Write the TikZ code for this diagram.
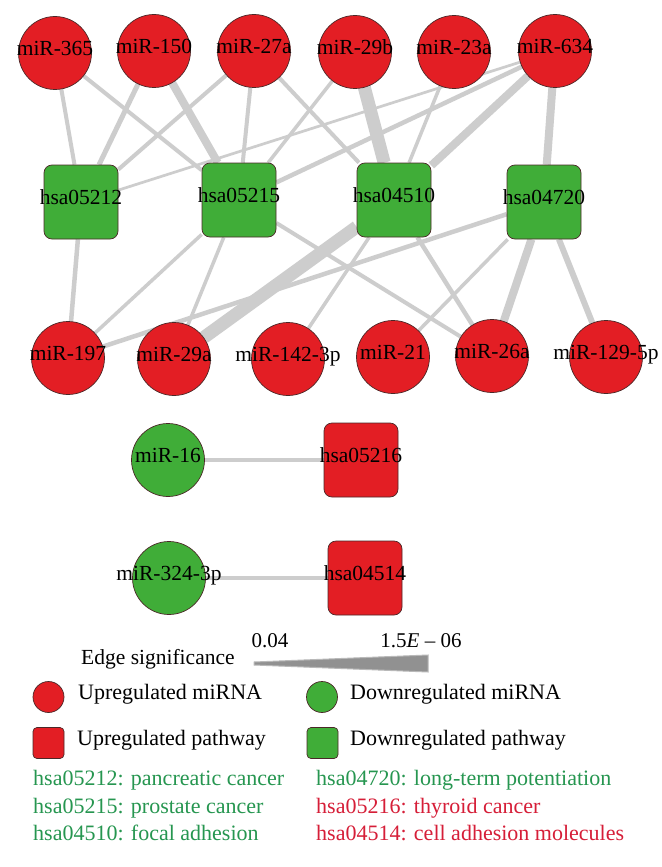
\documentclass[tikz,border=0pt]{standalone}
\usepackage{fontspec}
\setmainfont{Liberation Serif}
\newfontfamily\lserif[Ligatures=TeX]{Liberation Serif}
\usetikzlibrary{backgrounds}
\definecolor{nodered}{RGB}{227,30,36}
\definecolor{nodegreen}{RGB}{64,173,56}
\definecolor{edgegray}{RGB}{205,205,205}
\definecolor{txtgreen}{RGB}{38,150,80}
\definecolor{txtred}{RGB}{214,30,56}
\definecolor{outline}{RGB}{75,40,40}
\definecolor{wedgefill}{RGB}{145,145,145}
\definecolor{wedgeline}{RGB}{185,185,185}
\begin{document}
\begin{tikzpicture}[x=1pt,y=-1pt,
  lbl/.style={font=\lserif\fontsize{21.5}{24}\selectfont, inner sep=0pt, text height=0.68em, text depth=0.2em},
  mir/.style={circle, draw=outline, line width=0.7pt, minimum size=73pt, inner sep=0pt, fill=#1},
  pw/.style={rectangle, rounded corners=8pt, draw=outline, line width=0.7pt, minimum width=74pt, minimum height=74pt, inner sep=0pt, fill=#1},
  link/.style={draw=edgegray, line width=#1},
  lgd/.style={font=\lserif\fontsize{22}{24}\selectfont, inner sep=0pt, anchor=west, text height=0.68em, text depth=0.22em},
  lgdcirc/.style={circle, draw=outline, line width=0.7pt, minimum size=31pt, inner sep=0pt, fill=#1},
  lgdsq/.style={rectangle, rounded corners=4pt, draw=outline, line width=0.7pt, minimum size=31pt, inner sep=0pt, fill=#1}
]
\useasboundingbox (0,0) rectangle (661,867);
\begin{scope}[on background layer]
\fill[white] (0,0) rectangle (661,867);
\end{scope}

% top row miRNAs
\node[mir=nodered, label={[lbl]center:miR-365}] (m365) at (55,53) {};
\node[mir=nodered, label={[lbl]center:miR-150}] (m150) at (154,51) {};
\node[mir=nodered, label={[lbl]center:miR-27a}] (m27a) at (254,51) {};
\node[mir=nodered, label={[lbl]center:miR-29b}] (m29b) at (355,52) {};
\node[mir=nodered, label={[lbl]center:miR-23a}] (m23a) at (454,52) {};
\node[mir=nodered, label={[lbl]center:miR-634}] (m634) at (555,51) {};

% pathways
\node[pw=nodegreen, label={[lbl]center:hsa05212}] (p12) at (81,202) {};
\node[pw=nodegreen, label={[lbl]center:hsa05215}] (p15) at (239,200) {};
\node[pw=nodegreen, label={[lbl]center:hsa04510}] (p10) at (394,200) {};
\node[pw=nodegreen, label={[lbl]center:hsa04720}] (p20) at (544,202) {};

% bottom row miRNAs
\node[mir=nodered, label={[lbl]center:miR-197}] (m197) at (68,358) {};
\node[mir=nodered, label={[lbl]center:miR-29a}] (m29a) at (174,359) {};
\node[mir=nodered, label={[lbl]center:miR-142-3p}] (m142) at (288,359) {};
\node[mir=nodered, label={[lbl]center:miR-21}] (m21) at (393,357) {};
\node[mir=nodered, label={[lbl]center:miR-26a}] (m26a) at (492,356) {};
\node[mir=nodered, label={[lbl]center:miR-129-5p}] (m129) at (606,357) {};

% separate pairs
\node[mir=nodegreen, label={[lbl]center:miR-16}] (m16) at (168,460) {};
\node[pw=nodered, label={[lbl]center:hsa05216}] (p16) at (361,460) {};
\node[mir=nodegreen, label={[lbl]center:miR-324-3p}] (m324) at (169,578) {};
\node[pw=nodered, label={[lbl]center:hsa04514}] (p14) at (365,578) {};

\begin{scope}[on background layer]
% upper edges
\draw[link=4] (m365) -- (p12);
\draw[link=4] (m365) -- (p15);
\draw[link=5] (m150) -- (p12);
\draw[link=8] (m150) -- (p15);
\draw[link=4] (m27a) -- (p12);
\draw[link=4] (m27a) -- (p15);
\draw[link=4] (m27a) -- (p10);
\draw[link=3.5] (m29b) -- (p15);
\draw[link=13] (m29b) -- (p10);
\draw[link=3.5] (m23a) -- (p10);
\draw[link=2.7] (m634) -- (p12);
\draw[link=4.5] (m634) -- (p15);
\draw[link=8] (m634) -- (p10);
\draw[link=8] (m634) -- (p20);
% lower edges
\draw[link=4.5] (p12) -- (m197);
\draw[link=3.5] (p15) -- (m197);
\draw[link=3.5] (p15) -- (m29a);
\draw[link=4] (p15) -- (m26a);
\draw[link=13] (p10) -- (m29a);
\draw[link=3.5] (p10) -- (m142);
\draw[link=4.5] (p10) -- (m26a);
\draw[link=4.5] (p20) -- (m197);
\draw[link=3.5] (p20) -- (m21);
\draw[link=8] (p20) -- (m26a);
\draw[link=6] (p20) -- (m129);
% pairs
\draw[link=4] (m16) -- (p16);
\draw[link=4] (m324) -- (p14);
\end{scope}

% legend: edge significance
\node[lgd, font=\lserif\fontsize{21.5}{24}\selectfont] (esig) at (81,662) {Edge significance};
\node[lbl, font=\lserif\fontsize{21}{24}\selectfont] (vlow) at (270,645) {0.04};
\node[lbl, font=\lserif\fontsize{21}{24}\selectfont] (vhigh) at (421,645) {1.5\textit{E} -- 06};
\filldraw[fill=wedgefill, draw=wedgeline, line width=1pt] (254,662) -- (428,655) -- (428,672) -- (254,665) -- cycle;

% legend: shapes
\node[lgdcirc=nodered] (lupm) at (48.5,697) {};
\node[lgd] (tupm) at (78,697) {Upregulated miRNA};
\node[lgdcirc=nodegreen] (ldnm) at (322,697) {};
\node[lgd] (tdnm) at (350,697) {Downregulated miRNA};
\node[lgdsq=nodered] (lupp) at (48.5,743) {};
\node[lgd] (tupp) at (77,743) {Upregulated pathway};
\node[lgdsq=nodegreen] (ldnp) at (322.5,743) {};
\node[lgd] (tdnp) at (350,743) {Downregulated pathway};

% legend: pathway names
\node[lgd, text=txtgreen] (d12) at (33,783) {hsa05212: pancreatic cancer};
\node[lgd, text=txtgreen] (d15) at (33,811) {hsa05215: prostate cancer};
\node[lgd, text=txtgreen] (d10) at (33,838) {hsa04510: focal adhesion};
\node[lgd, text=txtgreen] (d20) at (316,783) {hsa04720: long-term potentiation};
\node[lgd, text=txtred] (d16) at (316,811) {hsa05216: thyroid cancer};
\node[lgd, text=txtred] (d14) at (316,838) {hsa04514: cell adhesion molecules};
\end{tikzpicture}
\end{document}
